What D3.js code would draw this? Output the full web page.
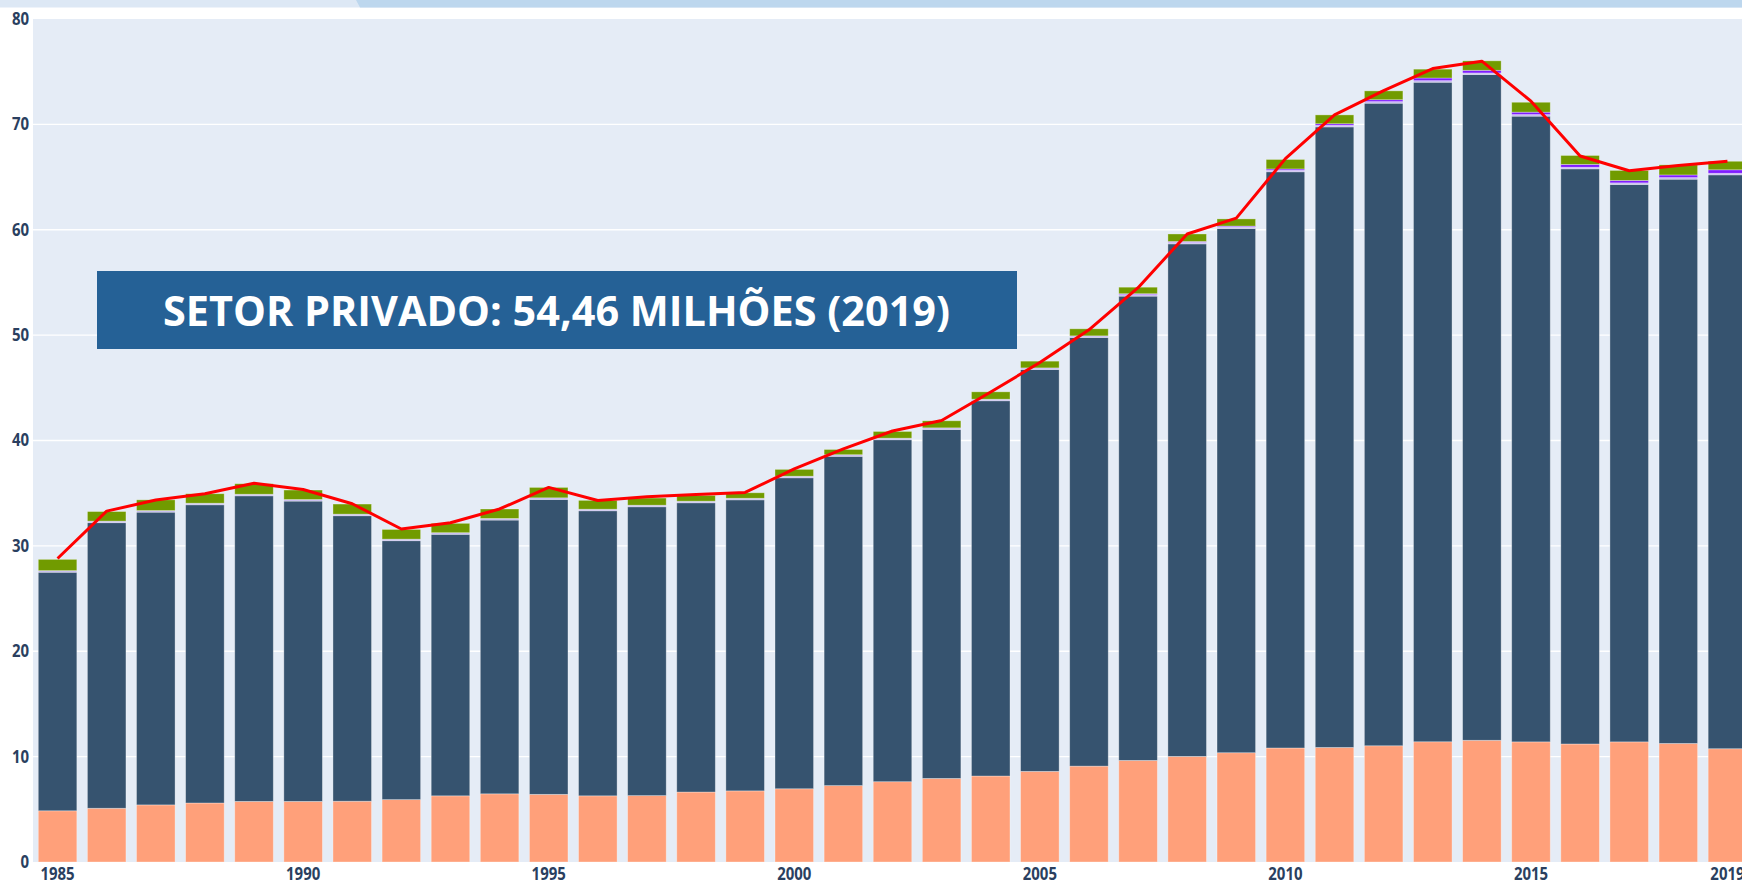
<!DOCTYPE html>
<html><head><meta charset="utf-8">
<script src="https://cdn.jsdelivr.net/npm/d3@7/dist/d3.min.js"></script>
<style>html,body{margin:0;padding:0;background:#fff;overflow:hidden}</style>
</head><body><svg id="c" width="1742" height="886"></svg>
<script>
// ---- data (milhões de vínculos) ----
const years = [1985,1986,1987,1988,1989,1990,1991,1992,1993,1994,1995,1996,1997,1998,1999,2000,2001,2002,2003,2004,2005,2006,2007,2008,2009,2010,2011,2012,2013,2014,2015,2016,2017,2018,2019];
const setorPublico = [4.86,5.10,5.42,5.60,5.75,5.75,5.77,5.92,6.28,6.47,6.42,6.28,6.30,6.64,6.75,6.95,7.25,7.62,7.93,8.16,8.60,9.10,9.64,10.02,10.37,10.82,10.87,11.03,11.41,11.55,11.40,11.20,11.40,11.25,10.75];
const setorPrivado = [22.64,27.10,27.78,28.30,29.00,28.50,27.09,24.57,24.82,25.98,27.99,27.05,27.41,27.45,27.62,29.51,31.25,32.45,33.12,35.61,38.14,40.68,44.06,48.64,49.75,54.68,58.89,60.98,62.59,63.18,59.38,54.58,52.90,53.55,54.46];
const outros = [0.15,0.15,0.15,0.15,0.15,0.15,0.15,0.15,0.15,0.15,0.15,0.15,0.15,0.15,0.15,0.15,0.15,0.15,0.15,0.15,0.15,0.15,0.15,0.15,0.15,0.15,0.15,0.15,0.15,0.15,0.15,0.15,0.15,0.15,0.15];
const roxo = [0,0,0,0,0,0,0,0,0,0,0,0,0,0,0,0,0,0,0,0,0,0,0.08,0.08,0.08,0.12,0.15,0.18,0.25,0.25,0.23,0.27,0.23,0.25,0.33];
const verde = [1.07,0.91,1.02,0.90,1.00,0.90,0.96,0.92,0.89,0.90,0.99,0.84,0.68,0.55,0.52,0.65,0.50,0.64,0.67,0.70,0.64,0.67,0.62,0.71,0.68,0.90,0.84,0.84,0.84,0.90,0.94,0.85,0.95,0.96,0.81];
const totalLinha = [28.8,33.3,34.35,34.95,35.95,35.35,34.0,31.6,32.2,33.5,35.55,34.3,34.66,34.88,35.07,37.3,39.2,40.9,41.9,44.6,47.4,50.5,54.5,59.6,61.1,66.75,70.9,73.2,75.3,76.0,72.2,67.0,65.6,66.1,66.5];
const yTicks = [0,10,20,30,40,50,60,70,80];
const xTickLabels = [1985,1990,1995,2000,2005,2010,2015,2019];
const titulo = "SETOR PRIVADO: 54,46 MILHÕES (2019)";

const keys = ["setorPublico","setorPrivado","outros","roxo","verde"];
const colors = {setorPublico:"#FFA07A", setorPrivado:"#36536F", outros:"#C4B8F0", roxo:"#7F1CFF", verde:"#719B00"};
const table = years.map((y,i)=>({year:y, setorPublico:setorPublico[i], setorPrivado:setorPrivado[i], outros:outros[i], roxo:roxo[i], verde:verde[i]}));

const W = 1742, H = 886;
const plotLeft = 33, plotTop = 19, plotBottom = 862;
const svg = d3.select("#c");

// top banner
svg.append("rect").attr("x",0).attr("y",0).attr("width",W).attr("height",7.5).attr("fill","#DDE8F5");
svg.append("path").attr("d","M356,0 L1742,0 L1742,7.5 L360,7.5 Z").attr("fill","#BDD7EE");

const x = d3.scaleBand().domain(years).range([plotLeft, 1752]).paddingInner(0.215).paddingOuter(0.1075);
const y = d3.scaleLinear().domain([0,80]).range([plotBottom, plotTop]);

// plot background
svg.append("rect").attr("x",plotLeft).attr("y",plotTop).attr("width",W-plotLeft).attr("height",plotBottom-plotTop).attr("fill","#E5ECF6");

// gridlines
svg.append("g").selectAll("line").data(yTicks.filter(d=>d>0 && d<80)).join("line")
  .attr("x1",plotLeft).attr("x2",W).attr("y1",d=>y(d)).attr("y2",d=>y(d))
  .attr("stroke","#ffffff").attr("stroke-width",1.3);

// y axis
const yAxis = d3.axisLeft(y).tickValues(yTicks).tickSize(0).tickPadding(3);
const gy = svg.append("g").attr("transform",`translate(${plotLeft-1},0)`).call(yAxis);
gy.select(".domain").remove();
gy.selectAll("text").attr("font-family","'Open Sans', sans-serif").attr("font-weight",700)
  .attr("font-size",17).attr("fill","#2A3F5F").attr("transform","scale(0.88,1)")
  .attr("x",-3/0.88);

// stacks
const series = d3.stack().keys(keys)(table);
svg.append("g").selectAll("g").data(series).join("g")
  .attr("fill",d=>colors[d.key])
  .selectAll("rect").data(d=>d).join("rect")
  .attr("x",d=>x(d.data.year)).attr("width",x.bandwidth())
  .attr("y",d=>y(d[1])).attr("height",d=>Math.max(0,y(d[0])-y(d[1])))
  .attr("stroke","#ffffff").attr("stroke-opacity",0.4).attr("stroke-width",0.8);

// total line
const line = d3.line().x((d,i)=>x(years[i])+x.bandwidth()/2).y(d=>y(d));
svg.append("path").datum(totalLinha).attr("d",line).attr("fill","none")
  .attr("stroke","#FF0000").attr("stroke-width",3).attr("stroke-linejoin","round");

// x axis
const xAxis = d3.axisBottom(x).tickValues(xTickLabels).tickSize(0).tickPadding(6);
const gx = svg.append("g").attr("transform",`translate(0,${plotBottom})`).call(xAxis);
gx.select(".domain").remove();
gx.selectAll("text").attr("font-family","'Open Sans', sans-serif").attr("font-weight",700)
  .attr("font-size",17).attr("fill","#2A3F5F");
gx.selectAll(".tick").each(function(){
  const t = d3.select(this).select("text");
  t.attr("transform","scale(0.88,1)");
});
gx.selectAll(".tick").attr("transform",function(d){return `translate(${x(d)+x.bandwidth()/2},0)`;});

// title box
svg.append("rect").attr("x",97).attr("y",271).attr("width",920).attr("height",78).attr("fill","#256196");
const tt = svg.append("text").attr("x",163).attr("y",326).attr("fill","#ffffff")
  .attr("font-family","'Open Sans', sans-serif").attr("font-weight",700).attr("font-size",41)
  .text(titulo);
tt.attr("textLength",787).attr("lengthAdjust","spacingAndGlyphs");
</script></body></html>
